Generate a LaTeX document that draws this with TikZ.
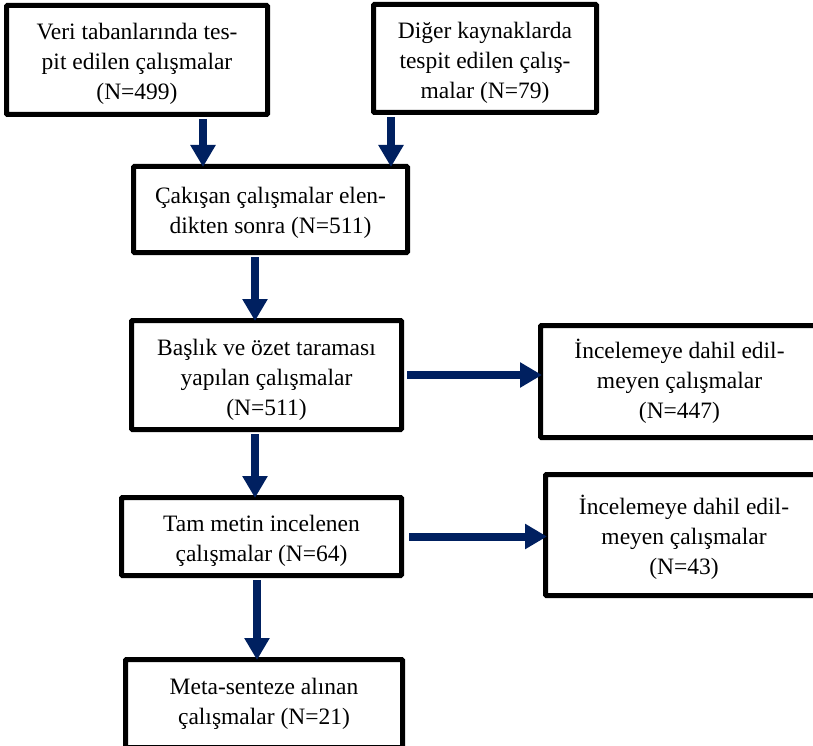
\documentclass[tikz,border=0pt]{standalone}
\usepackage{fontspec}
\setmainfont{Liberation Serif}
\definecolor{flownavy}{HTML}{002060}
\usetikzlibrary{arrows.meta, calc}
\newcommand{\boxtext}[2][-4pt]{\raisebox{#1}[\height][\depth]{\begin{tabular}{@{}c@{}}#2\end{tabular}}}

\begin{document}
\begin{tikzpicture}[x=1pt, y=-1pt,
      box/.style={draw, line width=5pt, rounded corners=1pt,
         inner sep=0pt, font=\fontsize{23.5}{30}\selectfont},
      flow/.style={flownavy, line width=8pt, -{Triangle[length=22pt, width=24pt]}}]
   \useasboundingbox (0,0) rectangle (813,746);
   \clip (0,0) rectangle (813,746);
   % Sources
   \node[box, minimum width=261pt, minimum height=109pt] (db) at (137,60)
      {\boxtext{Veri tabanlarında tes-\\pit edilen çalışmalar\\(N=499)}};
   \node[box, minimum width=223pt, minimum height=108pt] (other) at (485,58.5)
      {\boxtext{Diğer kaynaklarda\\tespit edilen çalış-\\malar (N=79)}};
   % Main column
   \node[box, minimum width=274pt, minimum height=86pt] (dedup) at (270.5,209.5)
      {\boxtext[-3pt]{Çakışan çalışmalar elen-\\dikten sonra (N=511)}};
   \node[box, minimum width=270pt, minimum height=109pt] (screen) at (266.5,375)
      {\boxtext{Başlık ve özet taraması\\yapılan çalışmalar\\(N=511)}};
   \node[box, minimum width=280pt, minimum height=78pt] (fulltext) at (261.5,536.5)
      {\boxtext{Tam metin incelenen\\çalışmalar (N=64)}};
   \node[box, minimum width=277pt, minimum height=88pt] (meta) at (264,703.5)
      {\boxtext[0pt]{Meta-senteze alınan\\çalışmalar (N=21)}};
   % Excluded studies
   \node[box, minimum width=278pt, minimum height=112pt] (excla) at (679.5,381.5)
      {\boxtext[-1pt]{İncelemeye dahil edil-\\meyen çalışmalar\\(N=447)}};
   \node[box, minimum width=277pt, minimum height=121pt] (exclb) at (684,535)
      {\boxtext[-3pt]{İncelemeye dahil edil-\\meyen çalışmalar\\(N=43)}};
   % Arrows
   \draw[flow] ([xshift=66pt, yshift=-2pt]db.south) -- ([xshift=66pt, yshift=-3pt]db.south |- dedup.north);
   \draw[flow] ([xshift=-94pt, yshift=-2pt]other.south) -- ([xshift=-94pt, yshift=-3pt]other.south |- dedup.north);
   \draw[flow] ([xshift=-15.5pt, yshift=-2pt]dedup.south) -- ([xshift=-15.5pt, yshift=-3pt]dedup.south |- screen.north);
   \draw[flow] ([xshift=-11.5pt, yshift=-2pt]screen.south) -- ([xshift=-11.5pt, yshift=-3pt]screen.south |- fulltext.north);
   \draw[flow] ([xshift=-4.5pt, yshift=-2pt]fulltext.south) -- ([xshift=-4.5pt, yshift=-3pt]fulltext.south |- meta.north);
   \draw[flow] ([xshift=3pt]screen.east) -- ([xshift=4pt]screen.east -| excla.west);
   \draw[flow] ([xshift=5pt]fulltext.east) -- ([xshift=4pt]fulltext.east -| exclb.west);
\end{tikzpicture}
\end{document}
